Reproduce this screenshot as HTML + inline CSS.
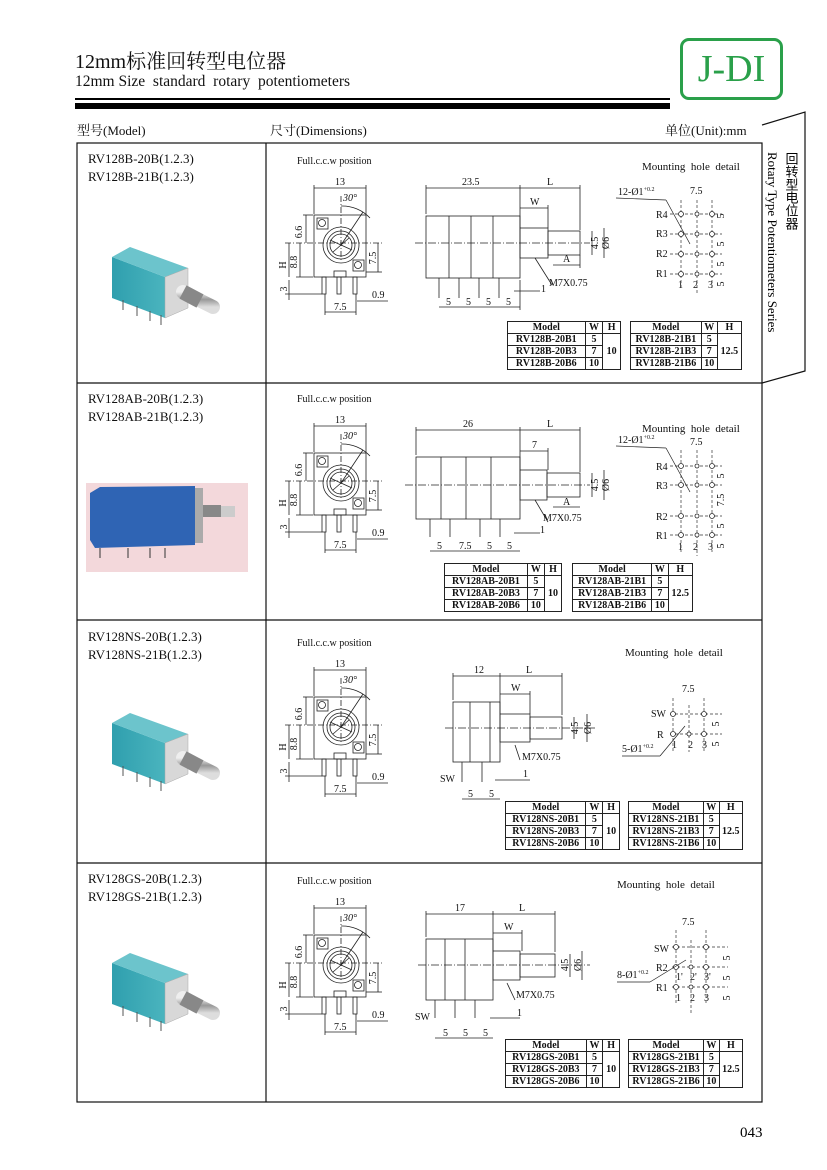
<!DOCTYPE html>
<html><head><meta charset="utf-8"><style>
body{margin:0;background:#fff}
#p{position:relative;width:827px;height:1170px;overflow:hidden;font-family:"Liberation Serif","Noto Serif CJK SC",serif;color:#111}
.a{position:absolute;white-space:nowrap}
table.t{position:absolute;border-collapse:collapse;font-size:10px;font-family:"Liberation Serif",serif;font-weight:bold;line-height:11px}
table.t td{border:1px solid #222;padding:0 2px;text-align:center;height:11px}
svg text{font-family:"Liberation Serif",serif}
</style></head><body><div id="p">
<div class="a" style="left:75px;top:50px;font-size:20px;line-height:24px">12mm标准回转型电位器</div>
<div class="a" style="left:75px;top:73px;font-size:15.5px;line-height:18px">12mm Size&nbsp; standard&nbsp; rotary&nbsp; potentiometers</div>
<div class="a" style="left:680px;top:38px;width:97px;height:56px;border:3px solid #2aa04a;border-radius:9px;color:#2aa04a;font-size:38px;text-align:center;line-height:56px">J-DI</div>
<div class="a" style="left:75px;top:98px;width:595px;height:2px;background:#000"></div>
<div class="a" style="left:75px;top:103px;width:595px;height:6px;background:#000"></div>
<div class="a" style="left:77px;top:120px;font-size:13px">型号(Model)</div>
<div class="a" style="left:270px;top:120px;font-size:13px">尺寸(Dimensions)</div>
<div class="a" style="left:665px;top:120px;font-size:13px">单位(Unit):mm</div>

<div class="a" style="left:88px;top:150px;font-size:13px;line-height:18px">RV128B-20B(1.2.3)<br>RV128B-21B(1.2.3)</div>
<div class="a" style="left:88px;top:390px;font-size:13px;line-height:18px">RV128AB-20B(1.2.3)<br>RV128AB-21B(1.2.3)</div>
<div class="a" style="left:88px;top:628px;font-size:13px;line-height:18px">RV128NS-20B(1.2.3)<br>RV128NS-21B(1.2.3)</div>
<div class="a" style="left:88px;top:870px;font-size:13px;line-height:18px">RV128GS-20B(1.2.3)<br>RV128GS-21B(1.2.3)</div>

<svg class="a" style="left:0;top:0" width="827" height="1170" viewBox="0 0 827 1170">
<defs>
<g id="front" fill="none" stroke="#222" stroke-width="0.8">
<rect x="314" y="215" width="52" height="62"/>
<circle cx="341" cy="245" r="18"/><circle cx="341" cy="245" r="14"/><circle cx="341" cy="245" r="11"/>
<line x1="330" y1="240" x2="352" y2="250"/><line x1="333" y1="252" x2="349" y2="238"/>
<rect x="317" y="218" width="11" height="11"/><circle cx="322" cy="223" r="3.5"/>
<rect x="353" y="260" width="11" height="11"/><circle cx="358" cy="265" r="3.5"/>
<rect x="334" y="271" width="12" height="6"/>
<rect x="322" y="277" width="4" height="17"/><rect x="337" y="277" width="4" height="17"/><rect x="353" y="277" width="4" height="17"/>
<line x1="314" y1="188" x2="366" y2="188"/><line x1="314" y1="185" x2="314" y2="214"/><line x1="366" y1="185" x2="366" y2="214"/>
<line x1="341" y1="196" x2="341" y2="262" stroke-dasharray="6,2,1,2"/>
<line x1="285" y1="243" x2="382" y2="243" stroke-dasharray="6,2,1,2"/>
<path d="M341 206 A38 38 0 0 1 370 218"/><line x1="341" y1="245" x2="363" y2="212"/>
<line x1="306" y1="215" x2="306" y2="243"/><line x1="303" y1="215" x2="313" y2="215"/>
<line x1="300" y1="243" x2="300" y2="277"/><line x1="296" y1="277" x2="313" y2="277"/>
<line x1="289" y1="243" x2="289" y2="277"/><line x1="289" y1="280" x2="289" y2="300"/><line x1="285" y1="294" x2="322" y2="294"/>
<line x1="378" y1="243" x2="378" y2="272"/><line x1="366" y1="272" x2="382" y2="272"/>
<line x1="325" y1="312" x2="356" y2="312"/><line x1="325" y1="294" x2="325" y2="315"/><line x1="356" y1="294" x2="356" y2="315"/>
<line x1="357" y1="301" x2="388" y2="301"/>
</g>
</defs>
<g font-size="10" fill="#111">
<g><use href="#front"/><text x="297" y="164">Full.c.c.w position</text><text x="335" y="185">13</text><text x="343" y="201" font-style="italic">30°</text>
<text x="302" y="232" transform="rotate(-90 302 232)" text-anchor="middle">6.6</text><text x="297" y="262" transform="rotate(-90 297 262)" text-anchor="middle">8.8</text><text x="286" y="265" transform="rotate(-90 286 265)" text-anchor="middle">H</text><text x="287" y="289" transform="rotate(-90 287 289)" text-anchor="middle">3</text><text x="376" y="258" transform="rotate(-90 376 258)" text-anchor="middle">7.5</text><text x="372" y="298">0.9</text><text x="334" y="310">7.5</text></g>
<g transform="translate(0,238)"><use href="#front"/><text x="297" y="164">Full.c.c.w position</text><text x="335" y="185">13</text><text x="343" y="201" font-style="italic">30°</text>
<text x="302" y="232" transform="rotate(-90 302 232)" text-anchor="middle">6.6</text><text x="297" y="262" transform="rotate(-90 297 262)" text-anchor="middle">8.8</text><text x="286" y="265" transform="rotate(-90 286 265)" text-anchor="middle">H</text><text x="287" y="289" transform="rotate(-90 287 289)" text-anchor="middle">3</text><text x="376" y="258" transform="rotate(-90 376 258)" text-anchor="middle">7.5</text><text x="372" y="298">0.9</text><text x="334" y="310">7.5</text></g>
<g transform="translate(0,482)"><use href="#front"/><text x="297" y="164">Full.c.c.w position</text><text x="335" y="185">13</text><text x="343" y="201" font-style="italic">30°</text>
<text x="302" y="232" transform="rotate(-90 302 232)" text-anchor="middle">6.6</text><text x="297" y="262" transform="rotate(-90 297 262)" text-anchor="middle">8.8</text><text x="286" y="265" transform="rotate(-90 286 265)" text-anchor="middle">H</text><text x="287" y="289" transform="rotate(-90 287 289)" text-anchor="middle">3</text><text x="376" y="258" transform="rotate(-90 376 258)" text-anchor="middle">7.5</text><text x="372" y="298">0.9</text><text x="334" y="310">7.5</text></g>
<g transform="translate(0,720)"><use href="#front"/><text x="297" y="164">Full.c.c.w position</text><text x="335" y="185">13</text><text x="343" y="201" font-style="italic">30°</text>
<text x="302" y="232" transform="rotate(-90 302 232)" text-anchor="middle">6.6</text><text x="297" y="262" transform="rotate(-90 297 262)" text-anchor="middle">8.8</text><text x="286" y="265" transform="rotate(-90 286 265)" text-anchor="middle">H</text><text x="287" y="289" transform="rotate(-90 287 289)" text-anchor="middle">3</text><text x="376" y="258" transform="rotate(-90 376 258)" text-anchor="middle">7.5</text><text x="372" y="298">0.9</text><text x="334" y="310">7.5</text></g>
</g>

<g fill="none" stroke="#222" stroke-width="0.8">
<rect x="426" y="216" width="94" height="62"/><line x1="449" y1="216" x2="449" y2="278"/><line x1="471" y1="216" x2="471" y2="278"/><line x1="493" y1="216" x2="493" y2="278"/>
<rect x="520" y="228" width="28" height="30"/><rect x="548" y="231" width="32" height="24"/>
<line x1="415" y1="243" x2="590" y2="243" stroke-dasharray="8,2,1,2"/>
<line x1="439" y1="278" x2="439" y2="298"/><line x1="459" y1="278" x2="459" y2="298"/><line x1="479" y1="278" x2="479" y2="298"/><line x1="499" y1="278" x2="499" y2="298"/>
<line x1="426" y1="188" x2="520" y2="188"/><line x1="426" y1="185" x2="426" y2="214"/><line x1="520" y1="185" x2="520" y2="228"/><line x1="520" y1="188" x2="580" y2="188"/><line x1="580" y1="185" x2="580" y2="230"/>
<line x1="520" y1="208" x2="548" y2="208"/><line x1="548" y1="205" x2="548" y2="228"/>
<line x1="553" y1="265" x2="580" y2="265"/><line x1="580" y1="255" x2="580" y2="268"/>
<line x1="592" y1="231" x2="592" y2="255"/><line x1="604" y1="228" x2="604" y2="258"/>
<line x1="535" y1="258" x2="552" y2="285"/><line x1="514" y1="291" x2="540" y2="291"/>
<line x1="439" y1="307" x2="520" y2="307"/><line x1="520" y1="280" x2="520" y2="310"/>
<rect x="416" y="457" width="104" height="62"/><line x1="441" y1="457" x2="441" y2="519"/><line x1="466" y1="457" x2="466" y2="519"/><line x1="491" y1="457" x2="491" y2="519"/>
<rect x="520" y="470" width="27" height="30"/><rect x="547" y="473" width="33" height="24"/>
<line x1="405" y1="485" x2="590" y2="485" stroke-dasharray="8,2,1,2"/>
<line x1="430" y1="519" x2="430" y2="537"/><line x1="450" y1="519" x2="450" y2="537"/><line x1="480" y1="519" x2="480" y2="537"/><line x1="500" y1="519" x2="500" y2="537"/>
<line x1="416" y1="430" x2="520" y2="430"/><line x1="416" y1="427" x2="416" y2="455"/><line x1="520" y1="427" x2="520" y2="470"/><line x1="520" y1="430" x2="580" y2="430"/><line x1="580" y1="427" x2="580" y2="472"/>
<line x1="520" y1="451" x2="548" y2="451"/><line x1="548" y1="448" x2="548" y2="470"/>
<line x1="553" y1="507" x2="580" y2="507"/><line x1="592" y1="473" x2="592" y2="497"/><line x1="604" y1="470" x2="604" y2="500"/>
<line x1="535" y1="500" x2="548" y2="522"/><line x1="514" y1="533" x2="540" y2="533"/>
<line x1="430" y1="551" x2="520" y2="551"/>
<rect x="453" y="702" width="47" height="60"/><line x1="470" y1="702" x2="470" y2="762"/><line x1="490" y1="702" x2="490" y2="762"/>
<rect x="500" y="714" width="30" height="28"/><rect x="530" y="717" width="32" height="22"/>
<line x1="445" y1="728" x2="595" y2="728" stroke-dasharray="8,2,1,2"/>
<line x1="462" y1="762" x2="462" y2="782"/><line x1="482" y1="762" x2="482" y2="782"/>
<line x1="453" y1="676" x2="500" y2="676"/><line x1="453" y1="673" x2="453" y2="700"/><line x1="500" y1="673" x2="500" y2="714"/><line x1="500" y1="676" x2="562" y2="676"/><line x1="562" y1="673" x2="562" y2="715"/>
<line x1="500" y1="694" x2="530" y2="694"/><line x1="530" y1="691" x2="530" y2="714"/>
<line x1="574" y1="717" x2="574" y2="739"/><line x1="587" y1="714" x2="587" y2="742"/>
<line x1="515" y1="745" x2="520" y2="760"/><line x1="495" y1="780" x2="530" y2="780"/>
<line x1="462" y1="799" x2="500" y2="799"/>
<rect x="426" y="939" width="67" height="61"/><line x1="445" y1="939" x2="445" y2="1000"/><line x1="465" y1="939" x2="465" y2="1000"/>
<rect x="493" y="951" width="27" height="29"/><rect x="520" y="954" width="35" height="23"/>
<line x1="418" y1="965" x2="590" y2="965" stroke-dasharray="8,2,1,2"/>
<line x1="435" y1="1000" x2="435" y2="1018"/><line x1="455" y1="1000" x2="455" y2="1018"/><line x1="475" y1="1000" x2="475" y2="1018"/>
<line x1="426" y1="914" x2="493" y2="914"/><line x1="426" y1="911" x2="426" y2="937"/><line x1="493" y1="911" x2="493" y2="951"/><line x1="493" y1="914" x2="555" y2="914"/><line x1="555" y1="911" x2="555" y2="952"/>
<line x1="493" y1="933" x2="522" y2="933"/><line x1="522" y1="930" x2="522" y2="951"/>
<line x1="570" y1="954" x2="570" y2="977"/><line x1="582" y1="951" x2="582" y2="980"/>
<line x1="507" y1="983" x2="515" y2="1000"/><line x1="490" y1="1018" x2="520" y2="1018"/>
<line x1="435" y1="1038" x2="493" y2="1038"/>
</g>
<g font-size="10" fill="#111">
<text x="462" y="185">23.5</text><text x="547" y="185">L</text><text x="530" y="205">W</text><text x="563" y="262">A</text><text x="549" y="286">M7X0.75</text><text x="541" y="292">1</text>
<text x="598" y="243" transform="rotate(-90 598 243)" text-anchor="middle">4.5</text><text x="609" y="243" transform="rotate(-90 609 243)" text-anchor="middle">Ø6</text>
<text x="446" y="305">5</text><text x="466" y="305">5</text><text x="486" y="305">5</text><text x="506" y="305">5</text>
<text x="463" y="427">26</text><text x="547" y="427">L</text><text x="532" y="448">7</text><text x="563" y="505">A</text><text x="543" y="521">M7X0.75</text><text x="540" y="533">1</text>
<text x="598" y="485" transform="rotate(-90 598 485)" text-anchor="middle">4.5</text><text x="609" y="485" transform="rotate(-90 609 485)" text-anchor="middle">Ø6</text>
<text x="437" y="549">5</text><text x="459" y="549">7.5</text><text x="487" y="549">5</text><text x="507" y="549">5</text>
<text x="474" y="673">12</text><text x="526" y="673">L</text><text x="511" y="691">W</text><text x="522" y="760">M7X0.75</text><text x="523" y="777">1</text><text x="440" y="782">SW</text>
<text x="578" y="728" transform="rotate(-90 578 728)" text-anchor="middle">4.5</text><text x="591" y="728" transform="rotate(-90 591 728)" text-anchor="middle">Ø6</text>
<text x="468" y="797">5</text><text x="489" y="797">5</text>
<text x="455" y="911">17</text><text x="519" y="911">L</text><text x="504" y="930">W</text><text x="516" y="998">M7X0.75</text><text x="517" y="1016">1</text><text x="415" y="1020">SW</text>
<text x="568" y="965" transform="rotate(-90 568 965)" text-anchor="middle">4.5</text><text x="581" y="965" transform="rotate(-90 581 965)" text-anchor="middle">Ø6</text>
<text x="443" y="1036">5</text><text x="463" y="1036">5</text><text x="483" y="1036">5</text>
<text x="642" y="170" font-size="11">Mounting&nbsp; hole&nbsp; detail</text>
<text x="642" y="432" font-size="11">Mounting&nbsp; hole&nbsp; detail</text>
<text x="625" y="656" font-size="11">Mounting&nbsp; hole&nbsp; detail</text>
<text x="617" y="888" font-size="11">Mounting&nbsp; hole&nbsp; detail</text>
<text x="618" y="195">12-Ø1<tspan font-size="6" dy="-4">+0.2</tspan></text><text x="690" y="194">7.5</text>
<text x="656" y="218">R4</text><text x="656" y="237">R3</text><text x="656" y="257">R2</text><text x="656" y="277">R1</text>
<text x="678" y="288">1</text><text x="693" y="288">2</text><text x="708" y="288">3</text>
<text x="618" y="443">12-Ø1<tspan font-size="6" dy="-4">+0.2</tspan></text><text x="690" y="445">7.5</text>
<text x="656" y="470">R4</text><text x="656" y="489">R3</text><text x="656" y="520">R2</text><text x="656" y="539">R1</text>
<text x="678" y="550">1</text><text x="693" y="550">2</text><text x="708" y="550">3</text>
<text x="682" y="692">7.5</text><text x="651" y="717">SW</text><text x="657" y="738">R</text><text x="672" y="748">1</text><text x="688" y="748">2</text><text x="702" y="748">3</text><text x="622" y="752">5-Ø1<tspan font-size="6" dy="-4">+0.2</tspan></text>
<text x="682" y="925">7.5</text><text x="654" y="952">SW</text><text x="656" y="971">R2</text><text x="656" y="991">R1</text><text x="676" y="980">1'</text><text x="690" y="980">2'</text><text x="704" y="980">3'</text><text x="676" y="1001">1</text><text x="690" y="1001">2</text><text x="704" y="1001">3</text><text x="617" y="978">8-Ø1<tspan font-size="6" dy="-4">+0.2</tspan></text>
<text x="724" y="216" transform="rotate(-90 724 216)" text-anchor="middle">5</text><text x="724" y="244" transform="rotate(-90 724 244)" text-anchor="middle">5</text><text x="724" y="264" transform="rotate(-90 724 264)" text-anchor="middle">5</text><text x="724" y="284" transform="rotate(-90 724 284)" text-anchor="middle">5</text>
<text x="724" y="476" transform="rotate(-90 724 476)" text-anchor="middle">5</text><text x="724" y="500" transform="rotate(-90 724 500)" text-anchor="middle">7.5</text><text x="724" y="526" transform="rotate(-90 724 526)" text-anchor="middle">5</text><text x="724" y="546" transform="rotate(-90 724 546)" text-anchor="middle">5</text>
<text x="719" y="724" transform="rotate(-90 719 724)" text-anchor="middle">5</text><text x="719" y="744" transform="rotate(-90 719 744)" text-anchor="middle">5</text>
<text x="730" y="958" transform="rotate(-90 730 958)" text-anchor="middle">5</text><text x="730" y="978" transform="rotate(-90 730 978)" text-anchor="middle">5</text><text x="730" y="998" transform="rotate(-90 730 998)" text-anchor="middle">5</text>
</g>
<g fill="none" stroke="#333" stroke-width="0.7" stroke-dasharray="3,2">
<line x1="670" y1="214" x2="722" y2="214"/><line x1="670" y1="234" x2="722" y2="234"/><line x1="670" y1="254" x2="722" y2="254"/><line x1="670" y1="274" x2="722" y2="274"/>
<line x1="681" y1="200" x2="681" y2="290"/><line x1="697" y1="200" x2="697" y2="295"/><line x1="712" y1="200" x2="712" y2="290"/>
<line x1="670" y1="466" x2="722" y2="466"/><line x1="670" y1="485" x2="722" y2="485"/><line x1="670" y1="516" x2="722" y2="516"/><line x1="670" y1="535" x2="722" y2="535"/>
<line x1="681" y1="450" x2="681" y2="552"/><line x1="697" y1="450" x2="697" y2="556"/><line x1="712" y1="450" x2="712" y2="552"/>
<line x1="670" y1="714" x2="722" y2="714"/><line x1="670" y1="734" x2="722" y2="734"/>
<line x1="673" y1="698" x2="673" y2="752"/><line x1="689" y1="705" x2="689" y2="752"/><line x1="704" y1="698" x2="704" y2="752"/>
<line x1="672" y1="947" x2="728" y2="947"/><line x1="672" y1="967" x2="728" y2="967"/><line x1="672" y1="987" x2="728" y2="987"/>
<line x1="676" y1="930" x2="676" y2="1005"/><line x1="691" y1="940" x2="691" y2="1015"/><line x1="706" y1="930" x2="706" y2="1005"/>
</g>
<g fill="#fff" stroke="#222" stroke-width="0.8">
<circle cx="681" cy="214" r="2.5"/><circle cx="697" cy="214" r="2"/><circle cx="712" cy="214" r="2.5"/><circle cx="681" cy="234" r="2.5"/><circle cx="697" cy="234" r="2"/><circle cx="712" cy="234" r="2.5"/><circle cx="681" cy="254" r="2.5"/><circle cx="697" cy="254" r="2"/><circle cx="712" cy="254" r="2.5"/><circle cx="681" cy="274" r="2.5"/><circle cx="697" cy="274" r="2"/><circle cx="712" cy="274" r="2.5"/>
<circle cx="681" cy="466" r="2.5"/><circle cx="697" cy="466" r="2"/><circle cx="712" cy="466" r="2.5"/><circle cx="681" cy="485" r="2.5"/><circle cx="697" cy="485" r="2"/><circle cx="712" cy="485" r="2.5"/><circle cx="681" cy="516" r="2.5"/><circle cx="697" cy="516" r="2"/><circle cx="712" cy="516" r="2.5"/><circle cx="681" cy="535" r="2.5"/><circle cx="697" cy="535" r="2"/><circle cx="712" cy="535" r="2.5"/>
<circle cx="673" cy="714" r="2.5"/><circle cx="704" cy="714" r="2.5"/><circle cx="673" cy="734" r="2.5"/><circle cx="689" cy="734" r="2"/><circle cx="704" cy="734" r="2.5"/>
<circle cx="676" cy="947" r="2.5"/><circle cx="706" cy="947" r="2.5"/><circle cx="676" cy="967" r="2.5"/><circle cx="691" cy="967" r="2"/><circle cx="706" cy="967" r="2.5"/><circle cx="676" cy="987" r="2.5"/><circle cx="691" cy="987" r="2"/><circle cx="706" cy="987" r="2.5"/>
</g>
<g stroke="#222" stroke-width="0.7"><line x1="616" y1="198" x2="666" y2="200"/><line x1="666" y1="200" x2="690" y2="244"/><line x1="616" y1="446" x2="666" y2="448"/><line x1="666" y1="448" x2="690" y2="492"/><line x1="622" y1="756" x2="660" y2="756"/><line x1="660" y1="756" x2="685" y2="726"/><line x1="617" y1="982" x2="650" y2="982"/><line x1="650" y1="982" x2="686" y2="960"/></g>

<defs><linearGradient id="tl" x1="0" y1="0" x2="1" y2="0"><stop offset="0" stop-color="#2f9fae"/><stop offset="1" stop-color="#4ab4be"/></linearGradient>
<linearGradient id="sv" x1="0" y1="0" x2="0" y2="1"><stop offset="0" stop-color="#eee"/><stop offset=".5" stop-color="#999"/><stop offset="1" stop-color="#ddd"/></linearGradient>
<g id="pot"><polygon points="112,257 165,277 165,318 112,298" fill="url(#tl)"/><polygon points="112,257 130,247 188,268 165,277" fill="#6cc4cc"/><polygon points="165,277 188,268 188,308 165,318" fill="#d8d8d8" stroke="#aaa" stroke-width=".5"/>
<line x1="183" y1="292" x2="213" y2="307" stroke="url(#sv)" stroke-width="14" stroke-linecap="round"/><line x1="183" y1="292" x2="200" y2="301" stroke="#888" stroke-width="15"/>
<g stroke="#555" stroke-width="1"><line x1="123" y1="300" x2="123" y2="310"/><line x1="137" y1="306" x2="137" y2="316"/><line x1="150" y1="311" x2="150" y2="321"/><line x1="161" y1="315" x2="161" y2="325"/></g></g></defs>
<use href="#pot"/><use href="#pot" transform="translate(0,466)"/><use href="#pot" transform="translate(0,706)"/>
<rect x="86" y="483" width="162" height="89" fill="#f3d8db"/>
<polygon points="90,493 100,487 195,486 195,545 95,548 90,540" fill="#2f64b4"/><rect x="195" y="488" width="8" height="55" fill="#aaa"/>
<rect x="203" y="505" width="18" height="12" fill="#888"/><rect x="221" y="506" width="14" height="11" fill="#ccc"/>
<g stroke="#333" stroke-width="1"><line x1="100" y1="548" x2="100" y2="558"/><line x1="128" y1="548" x2="128" y2="558"/><line x1="150" y1="548" x2="150" y2="558"/><line x1="165" y1="548" x2="165" y2="558"/></g>

<g fill="none" stroke="#111" stroke-width="1.2">
<rect x="77" y="143" width="685" height="959"/>
<line x1="266" y1="143" x2="266" y2="1102"/>
<line x1="77" y1="383" x2="762" y2="383"/><line x1="77" y1="620" x2="762" y2="620"/><line x1="77" y1="863" x2="762" y2="863"/>
<polyline points="762,125 805,112 805,371 762,383"/>
</g>
<text x="791" y="152" font-size="13" font-family="Liberation Serif,Noto Serif CJK SC,serif" writing-mode="tb">回转型电位器</text>
<text x="768" y="152" font-size="13" transform="rotate(90 768 152)">Rotary Type Potentiometers Series</text>
<text x="740" y="1137" font-size="15">043</text>
</svg>

<table class="t" style="left:507px;top:321px;width:114px"><tr><td>Model</td><td>W</td><td>H</td></tr><tr><td>RV128B-20B1</td><td>5</td><td rowspan="3">10</td></tr><tr><td>RV128B-20B3</td><td>7</td></tr><tr><td>RV128B-20B6</td><td>10</td></tr></table>
<table class="t" style="left:630px;top:321px;width:112px"><tr><td>Model</td><td>W</td><td>H</td></tr><tr><td>RV128B-21B1</td><td>5</td><td rowspan="3">12.5</td></tr><tr><td>RV128B-21B3</td><td>7</td></tr><tr><td>RV128B-21B6</td><td>10</td></tr></table>
<table class="t" style="left:444px;top:563px;width:118px"><tr><td>Model</td><td>W</td><td>H</td></tr><tr><td>RV128AB-20B1</td><td>5</td><td rowspan="3">10</td></tr><tr><td>RV128AB-20B3</td><td>7</td></tr><tr><td>RV128AB-20B6</td><td>10</td></tr></table>
<table class="t" style="left:572px;top:563px;width:121px"><tr><td>Model</td><td>W</td><td>H</td></tr><tr><td>RV128AB-21B1</td><td>5</td><td rowspan="3">12.5</td></tr><tr><td>RV128AB-21B3</td><td>7</td></tr><tr><td>RV128AB-21B6</td><td>10</td></tr></table>
<table class="t" style="left:505px;top:801px;width:115px"><tr><td>Model</td><td>W</td><td>H</td></tr><tr><td>RV128NS-20B1</td><td>5</td><td rowspan="3">10</td></tr><tr><td>RV128NS-20B3</td><td>7</td></tr><tr><td>RV128NS-20B6</td><td>10</td></tr></table>
<table class="t" style="left:628px;top:801px;width:115px"><tr><td>Model</td><td>W</td><td>H</td></tr><tr><td>RV128NS-21B1</td><td>5</td><td rowspan="3">12.5</td></tr><tr><td>RV128NS-21B3</td><td>7</td></tr><tr><td>RV128NS-21B6</td><td>10</td></tr></table>
<table class="t" style="left:505px;top:1039px;width:115px"><tr><td>Model</td><td>W</td><td>H</td></tr><tr><td>RV128GS-20B1</td><td>5</td><td rowspan="3">10</td></tr><tr><td>RV128GS-20B3</td><td>7</td></tr><tr><td>RV128GS-20B6</td><td>10</td></tr></table>
<table class="t" style="left:628px;top:1039px;width:115px"><tr><td>Model</td><td>W</td><td>H</td></tr><tr><td>RV128GS-21B1</td><td>5</td><td rowspan="3">12.5</td></tr><tr><td>RV128GS-21B3</td><td>7</td></tr><tr><td>RV128GS-21B6</td><td>10</td></tr></table>
</div></body></html>
